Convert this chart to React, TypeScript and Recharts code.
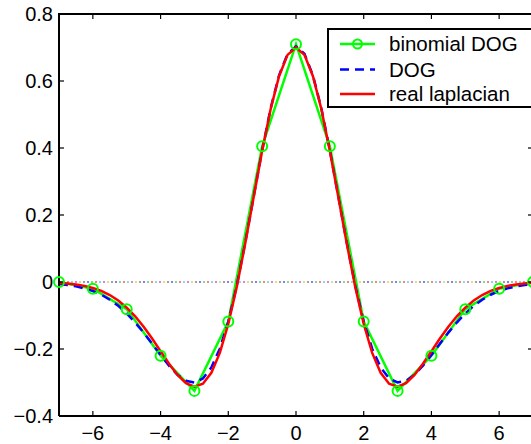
import React from 'react';
import { LineChart, Line, XAxis, YAxis } from 'recharts';

const xFine = [
  -7, -6.75, -6.5, -6.25, -6, -5.75, -5.5, -5.25, -5, -4.75, -4.5, -4.25, -4, -3.75, -3.5, -3.25,
  -3, -2.75, -2.5, -2.25, -2, -1.75, -1.5, -1.25, -1, -0.75, -0.5, -0.25, 0,
  0.25, 0.5, 0.75, 1, 1.25, 1.5, 1.75, 2, 2.25, 2.5, 2.75, 3, 3.25, 3.5, 3.75, 4,
  4.25, 4.5, 4.75, 5, 5.25, 5.5, 5.75, 6, 6.25, 6.5, 6.75, 7,
];

const realLaplacian = [
  -0.0028, -0.0046, -0.0074, -0.0116, -0.0178, -0.0267, -0.0389, -0.0552, -0.0763, -0.1024, -0.1335, -0.1688, -0.2065, -0.2441, -0.2774, -0.3019,
  -0.3123, -0.3035, -0.2709, -0.2116, -0.1254, -0.0147, 0.1146, 0.2536, 0.3913, 0.5155, 0.6143, 0.678, 0.7,
  0.678, 0.6143, 0.5155, 0.3913, 0.2536, 0.1146, -0.0147, -0.1254, -0.2116, -0.2709, -0.3035, -0.3123, -0.3019, -0.2774, -0.2441, -0.2065,
  -0.1688, -0.1335, -0.1024, -0.0763, -0.0552, -0.0389, -0.0267, -0.0178, -0.0116, -0.0074, -0.0046, -0.0028,
];

const dogValues = [
  -0.006, -0.009, -0.013, -0.019, -0.027, -0.038, -0.053, -0.071, -0.094, -0.121, -0.151, -0.184, -0.218, -0.25, -0.277, -0.295,
  -0.3, -0.288, -0.255, -0.199, -0.118, -0.011, 0.117, 0.255, 0.393, 0.518, 0.617, 0.681, 0.703,
  0.681, 0.617, 0.518, 0.393, 0.255, 0.117, -0.011, -0.118, -0.199, -0.255, -0.288, -0.3, -0.295, -0.277, -0.25, -0.218,
  -0.184, -0.151, -0.121, -0.094, -0.071, -0.053, -0.038, -0.027, -0.019, -0.013, -0.009, -0.006,
];

const xInt = [-7, -6, -5, -4, -3, -2, -1, 0, 1, 2, 3, 4, 5, 6, 7];
const binomialDog = [0, -0.02, -0.081, -0.22, -0.325, -0.118, 0.405, 0.71, 0.405, -0.118, -0.325, -0.22, -0.081, -0.02, 0];

const xTicks = [-6, -4, -2, 0, 2, 4, 6];
const yTicks = [-0.4, -0.2, 0, 0.2, 0.4, 0.6, 0.8];
const xDomain = [-7, 7];
const yDomain = [-0.4, 0.8];
const zeroColors = ['#0000ff', '#00bf00', '#ff0000', '#00bfbf', '#bf00bf', '#bfbf00', '#404040'];

const legendItems = ['binomial DOG', 'DOG', 'real laplacian'];

const laplacianData = xFine.map((x, i) => ({ x, y: realLaplacian[i] }));
const dogData = xFine.map((x, i) => ({ x, y: dogValues[i] }));
const binomialData = xInt.map((x, i) => ({ x, y: binomialDog[i] }));
const zeroData = [
  { x: xDomain[0], y: 0 },
  { x: xDomain[1], y: 0 },
];
const topEdgeData = [
  { x: xDomain[0], y: yDomain[1] },
  { x: xDomain[1], y: yDomain[1] },
];

// chart geometry
const CHART_W = 533;
const CHART_H = 444;
const M_TOP = 14;
const Y_AXIS_W = 59;
const X_AXIS_H = 28;
const PLOT_L = Y_AXIS_W;
const PLOT_R = CHART_W;
const PLOT_T = M_TOP;
const PLOT_B = CHART_H - X_AXIS_H;

const FONT = '"Liberation Sans", Arial, Helvetica, sans-serif';
const fmtX = (v: number) => String(v).replace('-', '\u2212');
const fmtY = (v: number) => (v === 0 ? '0' : v.toFixed(1).replace('-', '\u2212'));

const tickStyle = { fill: '#000', fontSize: 20, fontFamily: FONT };
const tickLineStyle = { stroke: '#000', strokeWidth: 1.2 };

// box frame (top edge + mirrored ticks on top and right), MATLAB "box on"
function BoxFrame() {
  const sx = (v: number) => PLOT_L + ((v - xDomain[0]) / (xDomain[1] - xDomain[0])) * (PLOT_R - PLOT_L);
  const sy = (v: number) => PLOT_T + ((yDomain[1] - v) / (yDomain[1] - yDomain[0])) * (PLOT_B - PLOT_T);
  return (
    <svg
      width={CHART_W}
      height={CHART_H}
      style={{ position: 'absolute', left: 0, top: 0, pointerEvents: 'none' }}
    >
      <line x1={PLOT_L - 1} x2={PLOT_R} y1={PLOT_T} y2={PLOT_T} stroke="#000" strokeWidth={2} />
      {xTicks.map((t) => (
        <line key={'t' + t} x1={sx(t)} x2={sx(t)} y1={PLOT_T} y2={PLOT_T + 5} stroke="#000" strokeWidth={1.2} />
      ))}
      {yTicks.map((t) => (
        <line key={'r' + t} x1={PLOT_R} x2={PLOT_R - 5} y1={sy(t)} y2={sy(t)} stroke="#000" strokeWidth={1.2} />
      ))}
    </svg>
  );
}

function LegendBox() {
  const rows = [14, 39.5, 64];
  return (
    <div
      style={{
        position: 'absolute',
        left: 327,
        top: 28,
        width: 220,
        height: 80,
        boxSizing: 'border-box',
        border: '2px solid #000',
        background: '#fff',
      }}
    >
      <svg width={216} height={76} style={{ display: 'block' }}>
        <line x1={11} x2={46} y1={rows[0]} y2={rows[0]} stroke="#00ff00" strokeWidth={2.5} />
        <circle cx={28.5} cy={rows[0]} r={4.5} fill="none" stroke="#00ff00" strokeWidth={2} />
        <line x1={11} x2={46} y1={rows[1]} y2={rows[1]} stroke="#0000ff" strokeWidth={2.5} strokeDasharray="9 6" />
        <line x1={11} x2={46} y1={rows[2]} y2={rows[2]} stroke="#ff0000" strokeWidth={2.5} />
        {legendItems.map((t, i) => (
          <text key={t} x={60} y={rows[i]} dy="0.36em" fontSize={20.5} fontFamily={FONT} fill="#000">
            {t}
          </text>
        ))}
      </svg>
    </div>
  );
}

export default function App() {
  return (
    <div
      style={{
        position: 'absolute',
        left: 0,
        top: 0,
        width: 531,
        height: 444,
        overflow: 'hidden',
        background: '#fff',
      }}
    >
      <LineChart width={CHART_W} height={CHART_H} margin={{ top: M_TOP, right: 0, bottom: 0, left: 0 }}>
        <XAxis
          type="number"
          dataKey="x"
          domain={xDomain}
          ticks={xTicks}
          height={X_AXIS_H}
          axisLine={{ stroke: '#000', strokeWidth: 2 }}
          tickLine={tickLineStyle}
          tickSize={-5}
          tickMargin={15}
          tick={tickStyle}
          tickFormatter={fmtX}
          interval={0}
        />
        <YAxis
          type="number"
          domain={yDomain}
          ticks={yTicks}
          width={Y_AXIS_W}
          axisLine={{ stroke: '#000', strokeWidth: 2 }}
          tickLine={tickLineStyle}
          tickSize={-5}
          tickMargin={11}
          tick={tickStyle}
          tickFormatter={fmtY}
          interval={0}
        />
        <Line
          data={topEdgeData}
          dataKey="y"
          stroke="#000"
          strokeWidth={2}
          dot={false}
          activeDot={false}
          isAnimationActive={false}
        />
        {zeroColors.map((c, i) => (
          <Line
            key={c}
            data={zeroData}
            dataKey="y"
            stroke={c}
            strokeWidth={1}
            strokeDasharray="2 26"
            strokeDashoffset={-i * 4}
            dot={false}
            activeDot={false}
            isAnimationActive={false}
          />
        ))}
        <Line
          data={binomialData}
          dataKey="y"
          type="linear"
          stroke="#00ff00"
          strokeWidth={2.5}
          dot={{ r: 5, stroke: '#00ff00', strokeWidth: 2, fill: 'none' }}
          activeDot={false}
          isAnimationActive={false}
        />
        <Line
          data={dogData}
          dataKey="y"
          type="linear"
          stroke="#0000ff"
          strokeWidth={2.5}
          strokeDasharray="9 6"
          dot={false}
          activeDot={false}
          isAnimationActive={false}
        />
        <Line
          data={laplacianData}
          dataKey="y"
          type="linear"
          stroke="#ff0000"
          strokeWidth={2.5}
          dot={false}
          activeDot={false}
          isAnimationActive={false}
        />
      </LineChart>
      <BoxFrame />
      <LegendBox />
    </div>
  );
}
